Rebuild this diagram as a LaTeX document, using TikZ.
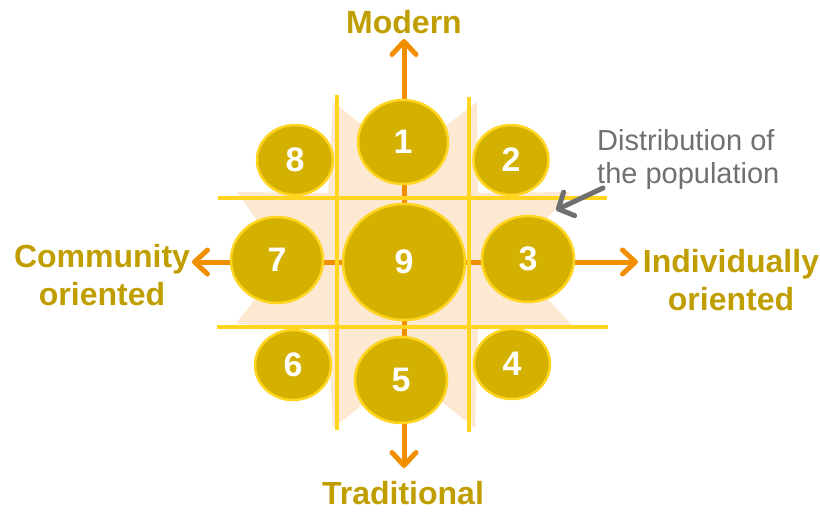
\documentclass[tikz,border=0pt]{standalone}
\usepackage{fontspec}
\setmainfont{Liberation Sans}
\usetikzlibrary{shapes.geometric,arrows.meta}
\definecolor{goldfill}{RGB}{212,176,0}
\definecolor{goldrim}{RGB}{255,213,32}
\definecolor{gridline}{RGB}{255,213,32}
\definecolor{axisorange}{RGB}{241,143,0}
\definecolor{peach}{RGB}{253,233,210}
\definecolor{labelgold}{RGB}{192,158,0}
\definecolor{notegray}{RGB}{112,112,112}
\tikzset{
  segment/.style={ellipse, fill=goldfill, draw=goldrim, line width=2.5pt,
    text=white, font=\fontsize{34}{38}\selectfont\bfseries, inner sep=0pt},
  axislabel/.style={text=labelgold, font=\fontsize{32}{38}\selectfont\bfseries,
    align=center, inner sep=0pt},
  axis/.style={draw=axisorange, line width=5pt,
    arrows={Straight Barb[length=13pt,width=24pt,round]-Straight Barb[length=13pt,width=24pt,round]}},
  grid/.style={draw=gridline, line width=3.5pt},
  note/.style={text=notegray, font=\fontsize{29}{33}\selectfont, align=left, inner sep=0pt},
  pointer/.style={draw=notegray, line width=5pt, line cap=round,
    arrows={-Straight Barb[length=12pt,width=26pt,round]}}
}
\begin{document}
\begin{tikzpicture}[x=1pt,y=-1pt]
\useasboundingbox (0,0) rectangle (820,512);

% population spread behind the grid
\fill[peach] (328,193) -- (333,102) -- (404,158) -- (477,102) -- (478,193)
  -- (570,192) -- (511,260) -- (573,326) -- (478,327)
  -- (475,428) -- (404,372) -- (333,428) -- (328,327)
  -- (236,324) -- (285,260) -- (237,192) -- cycle;

% axis end points
\coordinate (topTip) at (404,39);
\coordinate (bottomTip) at (404,468);
\coordinate (leftTip) at (192,262);
\coordinate (rightTip) at (638,262);

\draw[axis] (bottomTip) -- (topTip);
\draw[axis] (leftTip) -- (rightTip);

% grid lines
\coordinate (v1a) at (337,95);  \coordinate (v1b) at (337,430);
\coordinate (v2a) at (469,97);  \coordinate (v2b) at (469,432);
\coordinate (h1a) at (218,198); \coordinate (h1b) at (607,198);
\coordinate (h2a) at (217,327); \coordinate (h2b) at (608,327);
\draw[grid] (v1a) -- (v1b);
\draw[grid] (v2a) -- (v2b);
\draw[grid] (h1a) -- (h1b);
\draw[grid] (h2a) -- (h2b);

% segments
\node[segment, minimum width=90pt, minimum height=84pt] (c1) at (403,142) {1};
\node[segment, minimum width=75pt, minimum height=70pt] (c2) at (511,160) {2};
\node[segment, minimum width=92pt, minimum height=86pt] (c3) at (528,259) {3};
\node[segment, minimum width=76pt, minimum height=70pt] (c4) at (512,364) {4};
\node[segment, minimum width=92pt, minimum height=86pt] (c5) at (401,380) {5};
\node[segment, minimum width=76pt, minimum height=70pt] (c6) at (293,365) {6};
\node[segment, minimum width=92pt, minimum height=86pt] (c7) at (277,260) {7};
\node[segment, minimum width=76pt, minimum height=70pt] (c8) at (295,160) {8};
\node[segment, minimum width=122pt, minimum height=116pt] (c9) at (404,262) {9};

% axis labels (base anchor sits on the last line)
\node[axislabel, anchor=base, text depth=0pt] (modern) at (404,33) {Modern};
\node[axislabel, anchor=base, text depth=0pt] (traditional) at (403,504) {Traditional};
\node[axislabel, anchor=base] (community) at (102,305) {Community\\oriented};
\node[axislabel, anchor=base] (individual) at (731,310) {Individually\\oriented};

% annotation
\node[note, anchor=base west] (dist) at (597,183) {Distribution of\\the population};
\coordinate (pointerStart) at (603,188);
\coordinate (pointerTip) at (556,210);
\draw[pointer] (pointerStart) -- (pointerTip);
\end{tikzpicture}
\end{document}
